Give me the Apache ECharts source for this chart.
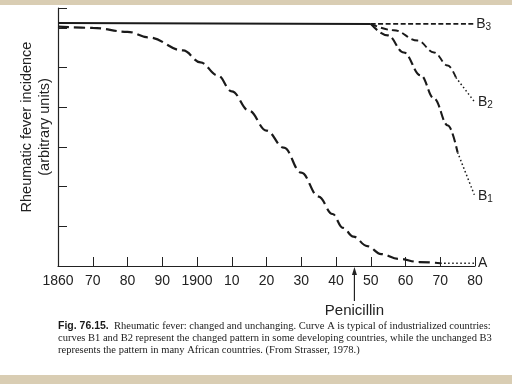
<!DOCTYPE html>
<html><head><meta charset="utf-8">
<script src="https://cdn.jsdelivr.net/npm/echarts@6/dist/echarts.min.js"></script>
<style>html,body{margin:0;padding:0;background:#fff;}#c{width:512px;height:384px;}</style>
</head><body><div id="c"></div>
<script>
// ---- data ----
const xTickLabels = ['1860','70','80','90','1900','10','20','30','40','50','60','70','80'];
const yearsA = [1860,1870,1880,1886,1896,1901,1906,1910,1915,1920,1925,1930,1935,1939,1942,1945,1949,1953,1958,1964,1970];
const valuesA = [6.03,6.0,5.9,5.76,5.43,5.13,4.80,4.4,3.91,3.41,2.98,2.35,1.75,1.31,0.96,0.74,0.5,0.3,0.18,0.10,0.07];
const yearsAdot = [1970,1980];
const valuesAdot = [0.07,0.07];
const yearsB3solid = [1860,1950];
const valuesB3solid = [6.12,6.1];
const yearsB3dash = [1950,1979.5];
const valuesB3dash = [6.1,6.1];
const yearsB2 = [1950,1956.6,1963.5,1968.2,1972.2,1974.5];
const valuesB2 = [6.1,5.94,5.68,5.38,5.05,4.75];
const yearsB2dot = [1974.5,1980];
const valuesB2dot = [4.75,4.12];
const yearsB1 = [1950,1954.9,1959.5,1964.4,1968.2,1972.2,1975];
const valuesB1 = [6.1,5.81,5.38,4.80,4.22,3.54,2.86];
const yearsB1dot = [1975,1980];
const valuesB1dot = [2.86,1.75];
const penicillinYear = 1945.3;

const zip = (xs, ys) => xs.map((x, i) => [x, ys[i]]);
const richLab = {
  b: {fontSize: 14, color: '#222', fontFamily: 'Liberation Sans, Arial'},
  s: {fontSize: 10, color: '#222', fontFamily: 'Liberation Sans, Arial', padding: [6, 0, 0, 0]}
};
function lineSeries(data, type, width, dash, label) {
  const s = {
    type: 'line', data: data, symbol: 'none', smooth: 0.4, smoothMonotone: 'x',
    lineStyle: {color: '#1a1a1a', width: width, type: type === 'solid' ? 'solid' : dash},
    silent: true, animation: false
  };
  if (label) {
    s.endLabel = {show: true, formatter: label, distance: 3, rich: richLab};
  }
  return s;
}

const chart = echarts.init(document.getElementById('c'), null, {renderer: 'canvas'});
chart.setOption({
  backgroundColor: '#ffffff',
  animation: false,
  grid: {left: 58, right: 37, top: 8, bottom: 118},
  xAxis: {
    type: 'value', min: 1860, max: 1980, interval: 10,
    axisLine: {lineStyle: {color: '#222', width: 1.2}},
    axisTick: {inside: true, length: 9, lineStyle: {color: '#222'}},
    splitLine: {show: false},
    axisLabel: {
      color: '#222', fontSize: 14, margin: 8, fontFamily: 'Liberation Sans, Arial',
      formatter: v => xTickLabels[Math.round((v - 1860) / 10)]
    }
  },
  yAxis: {
    type: 'value', min: 0, max: 6.5, interval: 1,
    axisLine: {show: true, lineStyle: {color: '#222', width: 1.2}},
    axisTick: {show: true, inside: true, length: 9, lineStyle: {color: '#222'}},
    axisLabel: {show: false},
    splitLine: {show: false}
  },
  series: [
    lineSeries(zip(yearsA, valuesA), 'dash', 2.2, [11, 5]),
    lineSeries(zip(yearsAdot, valuesAdot), 'dot', 1.5, [1.5, 2.5], '{b|A}'),
    lineSeries(zip(yearsB3solid, valuesB3solid), 'solid', 2),
    lineSeries(zip(yearsB3dash, valuesB3dash), 'dash', 1.6, [5, 2.5], '{b|B}{s|3}'),
    lineSeries(zip(yearsB2, valuesB2), 'dash', 1.9, [7, 4]),
    lineSeries(zip(yearsB2dot, valuesB2dot), 'dot', 1.5, [1.5, 2.5], '{b|B}{s|2}'),
    lineSeries(zip(yearsB1, valuesB1), 'dash', 2.1, [9, 4]),
    lineSeries(zip(yearsB1dot, valuesB1dot), 'dot', 1.5, [1.5, 2.5], '{b|B}{s|1}')
  ]
});

const p0 = chart.convertToPixel({xAxisIndex: 0, yAxisIndex: 0}, [penicillinYear, 0]);
const ax = p0[0], ay = p0[1];
chart.setOption({
  graphic: [
    {type: 'rect', shape: {x: 0, y: 0, width: 512, height: 5}, style: {fill: '#d9cdb3'}, silent: true},
    {type: 'rect', shape: {x: 0, y: 375, width: 512, height: 9}, style: {fill: '#d9cdb3'}, silent: true},
    {type: 'text', x: 27, y: 127, rotation: Math.PI / 2, silent: true,
      style: {text: 'Rheumatic fever incidence', fontSize: 14.5, fill: '#222', fontFamily: 'Liberation Sans, Arial', align: 'center', verticalAlign: 'middle'}},
    {type: 'text', x: 45, y: 127, rotation: Math.PI / 2, silent: true,
      style: {text: '(arbitrary units)', fontSize: 14.5, fill: '#222', fontFamily: 'Liberation Sans, Arial', align: 'center', verticalAlign: 'middle'}},
    {type: 'line', shape: {x1: ax, y1: ay + 6, x2: ax, y2: ay + 35}, style: {stroke: '#222', lineWidth: 1.2}, silent: true},
    {type: 'polygon', shape: {points: [[ax, ay + 1], [ax - 2.5, ay + 9], [ax + 2.5, ay + 9]]}, style: {fill: '#222'}, silent: true},
    {type: 'text', x: ax, y: ay + 45, silent: true,
      style: {text: 'Penicillin', fontSize: 15, fill: '#222', fontFamily: 'Liberation Sans, Arial', align: 'center', verticalAlign: 'middle'}},
    {type: 'text', x: 58, y: 326, silent: true,
      style: {
        text: '{bold|Fig. 76.15.}  Rheumatic fever: changed and unchanging. Curve A is typical of industrialized countries:',
        fontSize: 10.5, fill: '#1a1a1a', fontFamily: 'Liberation Serif, Times New Roman', verticalAlign: 'middle',
        rich: {bold: {fontWeight: 'bold', fontSize: 10.5, fill: '#1a1a1a', fontFamily: 'Liberation Sans, Arial'}}
      }},
    {type: 'text', x: 58, y: 338, silent: true,
      style: {text: 'curves B1 and B2 represent the changed pattern in some developing countries, while the unchanged B3',
        fontSize: 10.5, fill: '#1a1a1a', fontFamily: 'Liberation Serif, Times New Roman', verticalAlign: 'middle'}},
    {type: 'text', x: 58, y: 350, silent: true,
      style: {text: 'represents the pattern in many African countries. (From Strasser, 1978.)',
        fontSize: 10.5, fill: '#1a1a1a', fontFamily: 'Liberation Serif, Times New Roman', verticalAlign: 'middle'}}
  ]
});
</script>
</body></html>
